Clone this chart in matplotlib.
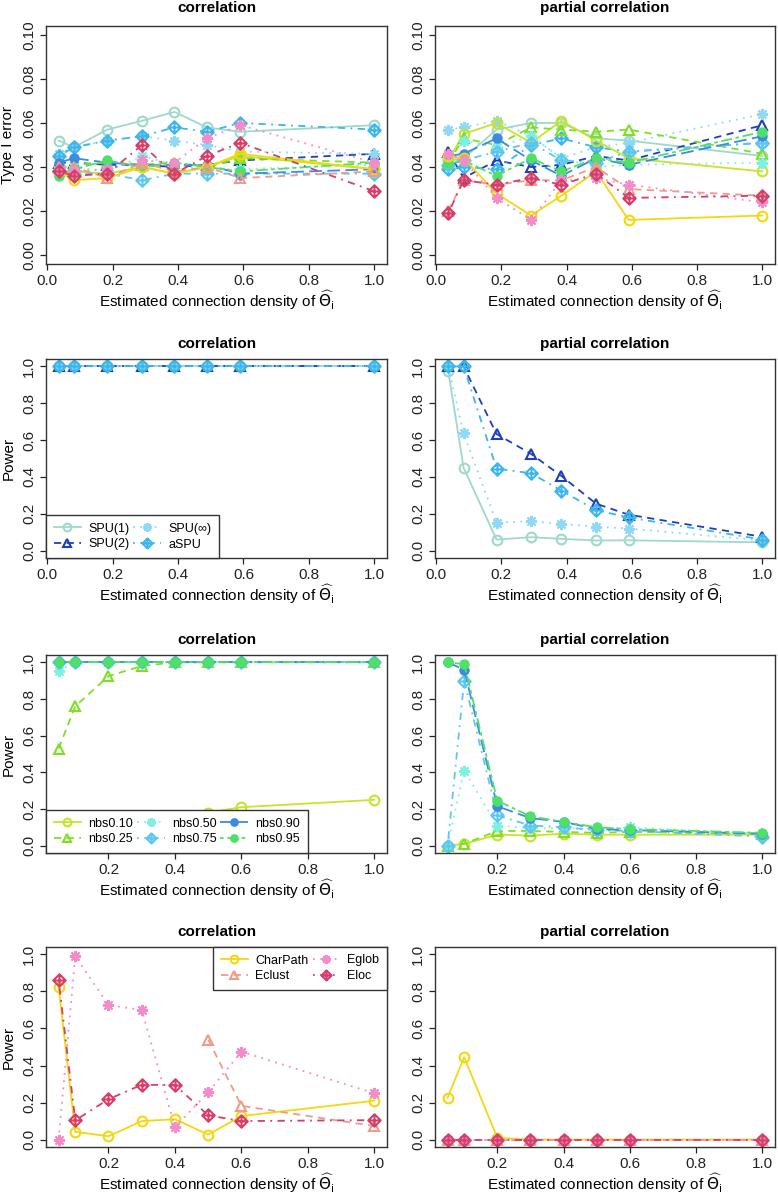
import matplotlib
matplotlib.use("Agg")
import matplotlib.pyplot as plt
from matplotlib.path import Path

plt.rcParams["font.family"] = ["Liberation Sans", "DejaVu Sans"]

# x values: estimated connection density
dens_cor = [0.035, 0.082, 0.184, 0.290, 0.389, 0.488, 0.590, 1.0]
dens_pcor = [0.037, 0.084, 0.185, 0.291, 0.384, 0.490, 0.590, 1.0]
dens_sim = [0.05, 0.1, 0.2, 0.3, 0.4, 0.5, 0.6, 1.0]

methods_spu = ["SPU(1)", "SPU(2)", "SPU(\u221e)", "aSPU"]
methods_nbs = ["nbs0.10", "nbs0.25", "nbs0.50", "nbs0.75", "nbs0.90", "nbs0.95"]
methods_graph = ["CharPath", "Eclust", "Eglob", "Eloc"]
methods_all = methods_spu + methods_nbs + methods_graph

nan = float("nan")

# type I error
t1_cor = {
    "SPU(1)": [0.052, 0.049, 0.057, 0.061, 0.065, 0.058, 0.056, 0.059],
    "SPU(2)": [0.042, 0.042, 0.041, 0.041, 0.040, 0.041, 0.043, 0.046],
    "SPU(\u221e)": [0.046, 0.049, 0.052, 0.054, 0.052, 0.050, 0.047, 0.046],
    "aSPU": [0.045, 0.049, 0.052, 0.054, 0.058, 0.056, 0.060, 0.057],
    "nbs0.10": [0.037, 0.038, 0.037, 0.040, 0.037, 0.040, 0.045, 0.039],
    "nbs0.25": [0.040, 0.041, 0.042, 0.041, 0.042, 0.040, 0.044, 0.042],
    "nbs0.50": [0.040, 0.040, 0.038, 0.045, 0.041, 0.039, 0.039, 0.041],
    "nbs0.75": [0.038, 0.037, 0.037, 0.034, 0.037, 0.037, 0.037, 0.037],
    "nbs0.90": [0.042, 0.044, 0.042, 0.041, 0.041, 0.041, 0.037, 0.039],
    "nbs0.95": [0.036, 0.039, 0.043, 0.040, 0.042, 0.040, 0.038, 0.042],
    "CharPath": [0.038, 0.034, 0.035, 0.040, 0.037, 0.040, 0.046, 0.039],
    "Eclust": [0.040, 0.040, 0.035, 0.042, 0.038, 0.040, 0.035, 0.038],
    "Eglob": [0.038, 0.038, 0.039, 0.043, 0.042, 0.053, 0.059, 0.042],
    "Eloc": [0.038, 0.036, 0.037, 0.050, 0.037, 0.045, 0.051, 0.029],
}
t1_pcor = {
    "SPU(1)": [0.043, 0.044, 0.057, 0.060, 0.060, 0.053, 0.052, 0.045],
    "SPU(2)": [0.047, 0.035, 0.043, 0.040, 0.041, 0.045, 0.043, 0.059],
    "SPU(\u221e)": [0.057, 0.058, 0.061, 0.054, 0.044, 0.049, 0.051, 0.064],
    "aSPU": [0.039, 0.040, 0.039, 0.050, 0.053, 0.049, 0.047, 0.051],
    "nbs0.10": [0.043, 0.055, 0.060, 0.051, 0.061, 0.052, 0.044, 0.038],
    "nbs0.25": [0.042, 0.053, 0.050, 0.058, 0.057, 0.056, 0.057, 0.046],
    "nbs0.50": [0.045, 0.052, 0.049, 0.054, 0.044, 0.040, 0.041, 0.042],
    "nbs0.75": [0.041, 0.043, 0.047, 0.051, 0.043, 0.042, 0.047, 0.051],
    "nbs0.90": [0.045, 0.046, 0.053, 0.043, 0.036, 0.044, 0.041, 0.054],
    "nbs0.95": [0.042, 0.043, 0.036, 0.044, 0.038, 0.044, 0.042, 0.056],
    "CharPath": [0.045, 0.044, 0.028, 0.018, 0.027, 0.038, 0.016, 0.018],
    "Eclust": [0.020, 0.034, 0.032, 0.034, 0.034, 0.040, 0.030, 0.027],
    "Eglob": [0.046, 0.043, 0.026, 0.016, 0.034, 0.035, 0.032, 0.024],
    "Eloc": [0.019, 0.034, 0.032, 0.035, 0.032, 0.037, 0.026, 0.027],
}

# power, SPU tests
pw_spu_cor = {
    "SPU(1)": [1.0, 1.0, 1.0, 1.0, 1.0, 1.0, 1.0, 1.0],
    "SPU(2)": [1.0, 1.0, 1.0, 1.0, 1.0, 1.0, 1.0, 1.0],
    "SPU(\u221e)": [1.0, 1.0, 1.0, 1.0, 1.0, 1.0, 1.0, 1.0],
    "aSPU": [1.0, 1.0, 1.0, 1.0, 1.0, 1.0, 1.0, 1.0],
}
pw_spu_pcor = {
    "SPU(1)": [0.975, 0.45, 0.06, 0.073, 0.064, 0.055, 0.056, 0.045],
    "SPU(2)": [1.0, 1.0, 0.633, 0.525, 0.405, 0.255, 0.195, 0.075],
    "SPU(\u221e)": [1.0, 0.636, 0.152, 0.16, 0.145, 0.13, 0.12, 0.055],
    "aSPU": [1.0, 1.0, 0.445, 0.42, 0.325, 0.22, 0.18, 0.06],
}

# power, NBS
pw_nbs_cor = {
    "nbs0.10": [0.05, 0.06, 0.10, 0.13, 0.15, 0.18, 0.21, 0.25],
    "nbs0.25": [0.53, 0.76, 0.925, 0.98, 1.0, 1.0, 1.0, 1.0],
    "nbs0.50": [0.955, 1.0, 1.0, 1.0, 1.0, 1.0, 1.0, 1.0],
    "nbs0.75": [1.0, 1.0, 1.0, 1.0, 1.0, 1.0, 1.0, 1.0],
    "nbs0.90": [1.0, 1.0, 1.0, 1.0, 1.0, 1.0, 1.0, 1.0],
    "nbs0.95": [1.0, 1.0, 1.0, 1.0, 1.0, 1.0, 1.0, 1.0],
}
pw_nbs_pcor = {
    "nbs0.10": [0.0, 0.01, 0.06, 0.055, 0.065, 0.06, 0.06, 0.06],
    "nbs0.25": [0.0, 0.01, 0.08, 0.08, 0.075, 0.07, 0.075, 0.065],
    "nbs0.50": [0.0, 0.41, 0.11, 0.095, 0.095, 0.09, 0.10, 0.065],
    "nbs0.75": [0.0, 0.90, 0.165, 0.11, 0.10, 0.085, 0.08, 0.05],
    "nbs0.90": [1.0, 0.96, 0.215, 0.15, 0.13, 0.09, 0.085, 0.065],
    "nbs0.95": [1.0, 0.99, 0.245, 0.16, 0.13, 0.10, 0.09, 0.07],
}

# power, graph measures
pw_graph_cor = {
    "CharPath": [0.824, 0.042, 0.018, 0.10, 0.11, 0.027, 0.127, 0.21],
    "Eclust": [nan, nan, nan, nan, nan, 0.54, 0.182, 0.073],
    "Eglob": [0.0, 0.99, 0.727, 0.70, 0.067, 0.255, 0.475, 0.25],
    "Eloc": [0.86, 0.104, 0.218, 0.296, 0.295, 0.131, 0.10, 0.105],
}
pw_graph_pcor = {
    "CharPath": [0.227, 0.445, 0.01, 0.0, 0.0, 0.0, 0.0, 0.0],
    "Eclust": [0.0, 0.0, 0.0, 0.0, 0.0, 0.0, 0.0, 0.0],
    "Eglob": [0.0, 0.0, 0.0, 0.0, 0.0, 0.0, 0.0, 0.0],
    "Eloc": [0.0, 0.0, 0.0, 0.0, 0.0, 0.0, 0.0, 0.0],
}


# markers and line types (R style)
diamond_plus = Path(
    [(0, 1), (1, 0), (0, -1), (-1, 0), (0, 1), (0, 1), (0, -1), (-1, 0), (1, 0)],
    [Path.MOVETO, Path.LINETO, Path.LINETO, Path.LINETO, Path.CLOSEPOLY,
     Path.MOVETO, Path.LINETO, Path.MOVETO, Path.LINETO])
star = (8, 2, 0)
lty = ["-", (0, (4, 3)), (0, (1, 3)), (0, (1, 3, 4, 3)), (0, (7, 3)), (0, (2, 2, 6, 2))]
pch = [("o", 7, False), ("^", 7, False), (star, 8, False), (diamond_plus, 9, False),
       ("o", 6, True), ("o", 6, True)]

colors = {
    "SPU(1)": "#9ED9CC", "SPU(2)": "#1F3FB8", "SPU(\u221e)": "#8FD8F6", "aSPU": "#3DB6EA",
    "nbs0.10": "#C6E42A", "nbs0.25": "#7EE024", "nbs0.50": "#7EF0E2",
    "nbs0.75": "#5EC6F2", "nbs0.90": "#3A8CDF", "nbs0.95": "#4FE06A",
    "CharPath": "#F4D70E", "Eclust": "#F29A88", "Eglob": "#F28CCB", "Eloc": "#D43F6B",
}


def style(name):
    for group in (methods_spu, methods_nbs, methods_graph):
        if name in group:
            return group.index(name)


def draw(ax, x, data, names):
    for nm in names:
        k = style(nm)
        mk, ms, filled = pch[k]
        c = colors[nm]
        ax.plot(x, data[nm], color=c, ls=lty[k], lw=1.3, marker=mk, ms=ms, mew=1.5,
                mec=c, mfc=c if filled else "none", label=nm)


def frame(ax, title, ylim, yticks, yfmt, xlim, xticks, ylabel=None, title_pad=8):
    ax.set_xlim(*xlim)
    ax.set_ylim(*ylim)
    ax.set_xticks(xticks)
    ax.set_xticklabels([f"{v:.1f}" for v in xticks])
    ax.set_yticks(yticks)
    ax.set_yticklabels([yfmt.format(v) for v in yticks], rotation=90, va="center")
    ax.tick_params(direction="out", length=4.5, width=0.9, labelsize=11, pad=2.5, colors="#222222")
    for s in ax.spines.values():
        s.set_linewidth(1.0)
        s.set_color("#333333")
    ax.set_title(title, fontsize=11, fontweight="bold", pad=title_pad)
    ax.set_xlabel(r"Estimated connection density of $\widehat{\Theta}_{\mathrm{i}}$",
                  fontsize=11, labelpad=0.5)
    if ylabel:
        ax.set_ylabel(ylabel, fontsize=11)
        ax.yaxis.set_label_coords(-0.09, 0.5)


fig = plt.figure(figsize=(7.78, 11.94), dpi=100)
W, H = 778, 1194
cols = [(46, 387), (435, 775)]
rows = [(26, 264), (359, 558), (655, 853), (947, 1147)]


def make_ax(r, c):
    x0, x1 = cols[c]
    y0, y1 = rows[r]
    return fig.add_axes([x0 / W, 1 - y1 / H, (x1 - x0) / W, (y1 - y0) / H])


xlim_a = (-0.0036, 1.0386)
xlim_b = (0.012, 1.038)
xt_a = [0.0, 0.2, 0.4, 0.6, 0.8, 1.0]
xt_b = [0.2, 0.4, 0.6, 0.8, 1.0]
yt_t1 = [0.0, 0.02, 0.04, 0.06, 0.08, 0.10]
yt_pw = [0.0, 0.2, 0.4, 0.6, 0.8, 1.0]
ylim_t1 = (-0.004, 0.104)
ylim_pw = (-0.04, 1.04)

leg_kw = dict(fontsize=9, frameon=True, fancybox=False, framealpha=1, edgecolor="#333333",
              borderaxespad=0, handlelength=2.2, handletextpad=0.6, columnspacing=0.3,
              labelspacing=0.3, borderpad=0.6, markerscale=0.8)

# row 1: type I error
ax = make_ax(0, 0)
draw(ax, dens_cor, t1_cor, methods_all)
frame(ax, "correlation", ylim_t1, yt_t1, "{:.2f}", xlim_a, xt_a, "Type I error", title_pad=10)
ax = make_ax(0, 1)
draw(ax, dens_pcor, t1_pcor, methods_all)
frame(ax, "partial correlation", ylim_t1, yt_t1, "{:.2f}", xlim_a, xt_a, title_pad=10)

# row 2: SPU power
ax = make_ax(1, 0)
draw(ax, dens_cor, pw_spu_cor, methods_spu)
frame(ax, "correlation", ylim_pw, yt_pw, "{:.1f}", xlim_a, xt_a, "Power")
leg = ax.legend(loc="lower left", ncol=2, **leg_kw)
leg.get_frame().set_linewidth(1.0)
ax = make_ax(1, 1)
draw(ax, dens_pcor, pw_spu_pcor, methods_spu)
frame(ax, "partial correlation", ylim_pw, yt_pw, "{:.1f}", xlim_a, xt_a)

# row 3: NBS power
ax = make_ax(2, 0)
draw(ax, dens_sim, pw_nbs_cor, methods_nbs)
frame(ax, "correlation", ylim_pw, yt_pw, "{:.1f}", xlim_b, xt_b, "Power")
leg = ax.legend(loc="lower left", ncol=3, **leg_kw)
leg.get_frame().set_linewidth(1.0)
ax = make_ax(2, 1)
draw(ax, dens_sim, pw_nbs_pcor, methods_nbs)
frame(ax, "partial correlation", ylim_pw, yt_pw, "{:.1f}", xlim_b, xt_b)

# row 4: graph measures power
ax = make_ax(3, 0)
draw(ax, dens_sim, pw_graph_cor, methods_graph)
frame(ax, "correlation", ylim_pw, yt_pw, "{:.1f}", xlim_b, xt_b, "Power")
leg = ax.legend(loc="upper right", ncol=2, **leg_kw)
leg.get_frame().set_linewidth(1.0)
ax = make_ax(3, 1)
draw(ax, dens_sim, pw_graph_pcor, methods_graph)
frame(ax, "partial correlation", ylim_pw, yt_pw, "{:.1f}", xlim_b, xt_b)

fig.savefig("out.png", dpi=100)
